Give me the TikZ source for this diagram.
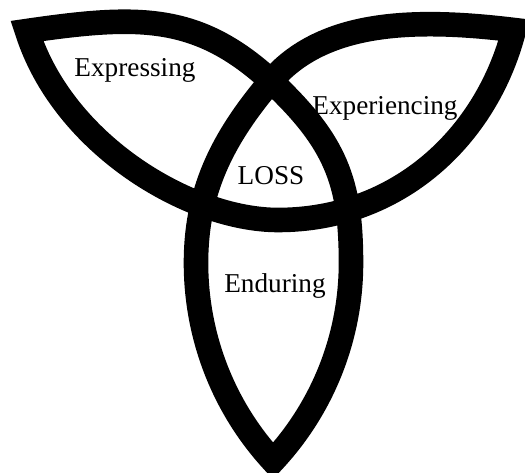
\documentclass[tikz,border=0pt]{standalone}
\usepackage{fontspec}
\setmainfont{Liberation Serif}
\begin{document}
\begin{tikzpicture}[
 x=0.02cm, y=-0.02cm,
 every node/.style={font=\fontsize{15.5}{18}\selectfont},
 knot/.style={draw=black,line width=14pt,line join=miter,miter limit=10},
 word/.style={anchor=base,inner sep=0pt}
]
\useasboundingbox (0,0) rectangle (525,473);
% tips, crossing and turning points of the knot
\coordinate (A1) at (27,31);
\coordinate (A2) at (514,30);
\coordinate (A3) at (273,461);
\coordinate (X) at (271,81);
\coordinate (R) at (351,263);
\coordinate (L) at (196,263);
\coordinate (B) at (278,220);
\path[knot] (A1) .. controls (137,15) and (197,13) .. (X)
 .. controls (336,142) and (351,182) .. (R)
 .. controls (351,336.5) and (323.1,407.3) .. (A3)
 .. controls (223.3,407.1) and (196,336.3) .. (L)
 .. controls (196,195) and (219,142) .. (X)
 .. controls (323,20) and (415,18) .. (A2)
 .. controls (486.5,137) and (398,220) .. (B)
 .. controls (190,220) and (63,145) .. cycle;
% the four words
\node[word] (expr) at (135,77) {Expressing};
\node[word] (exper) at (385,115) {Experiencing};
\node[word] (loss) at (271,185) {LOSS};
\node[word] (endur) at (275,293) {Enduring};
\end{tikzpicture}
\end{document}
